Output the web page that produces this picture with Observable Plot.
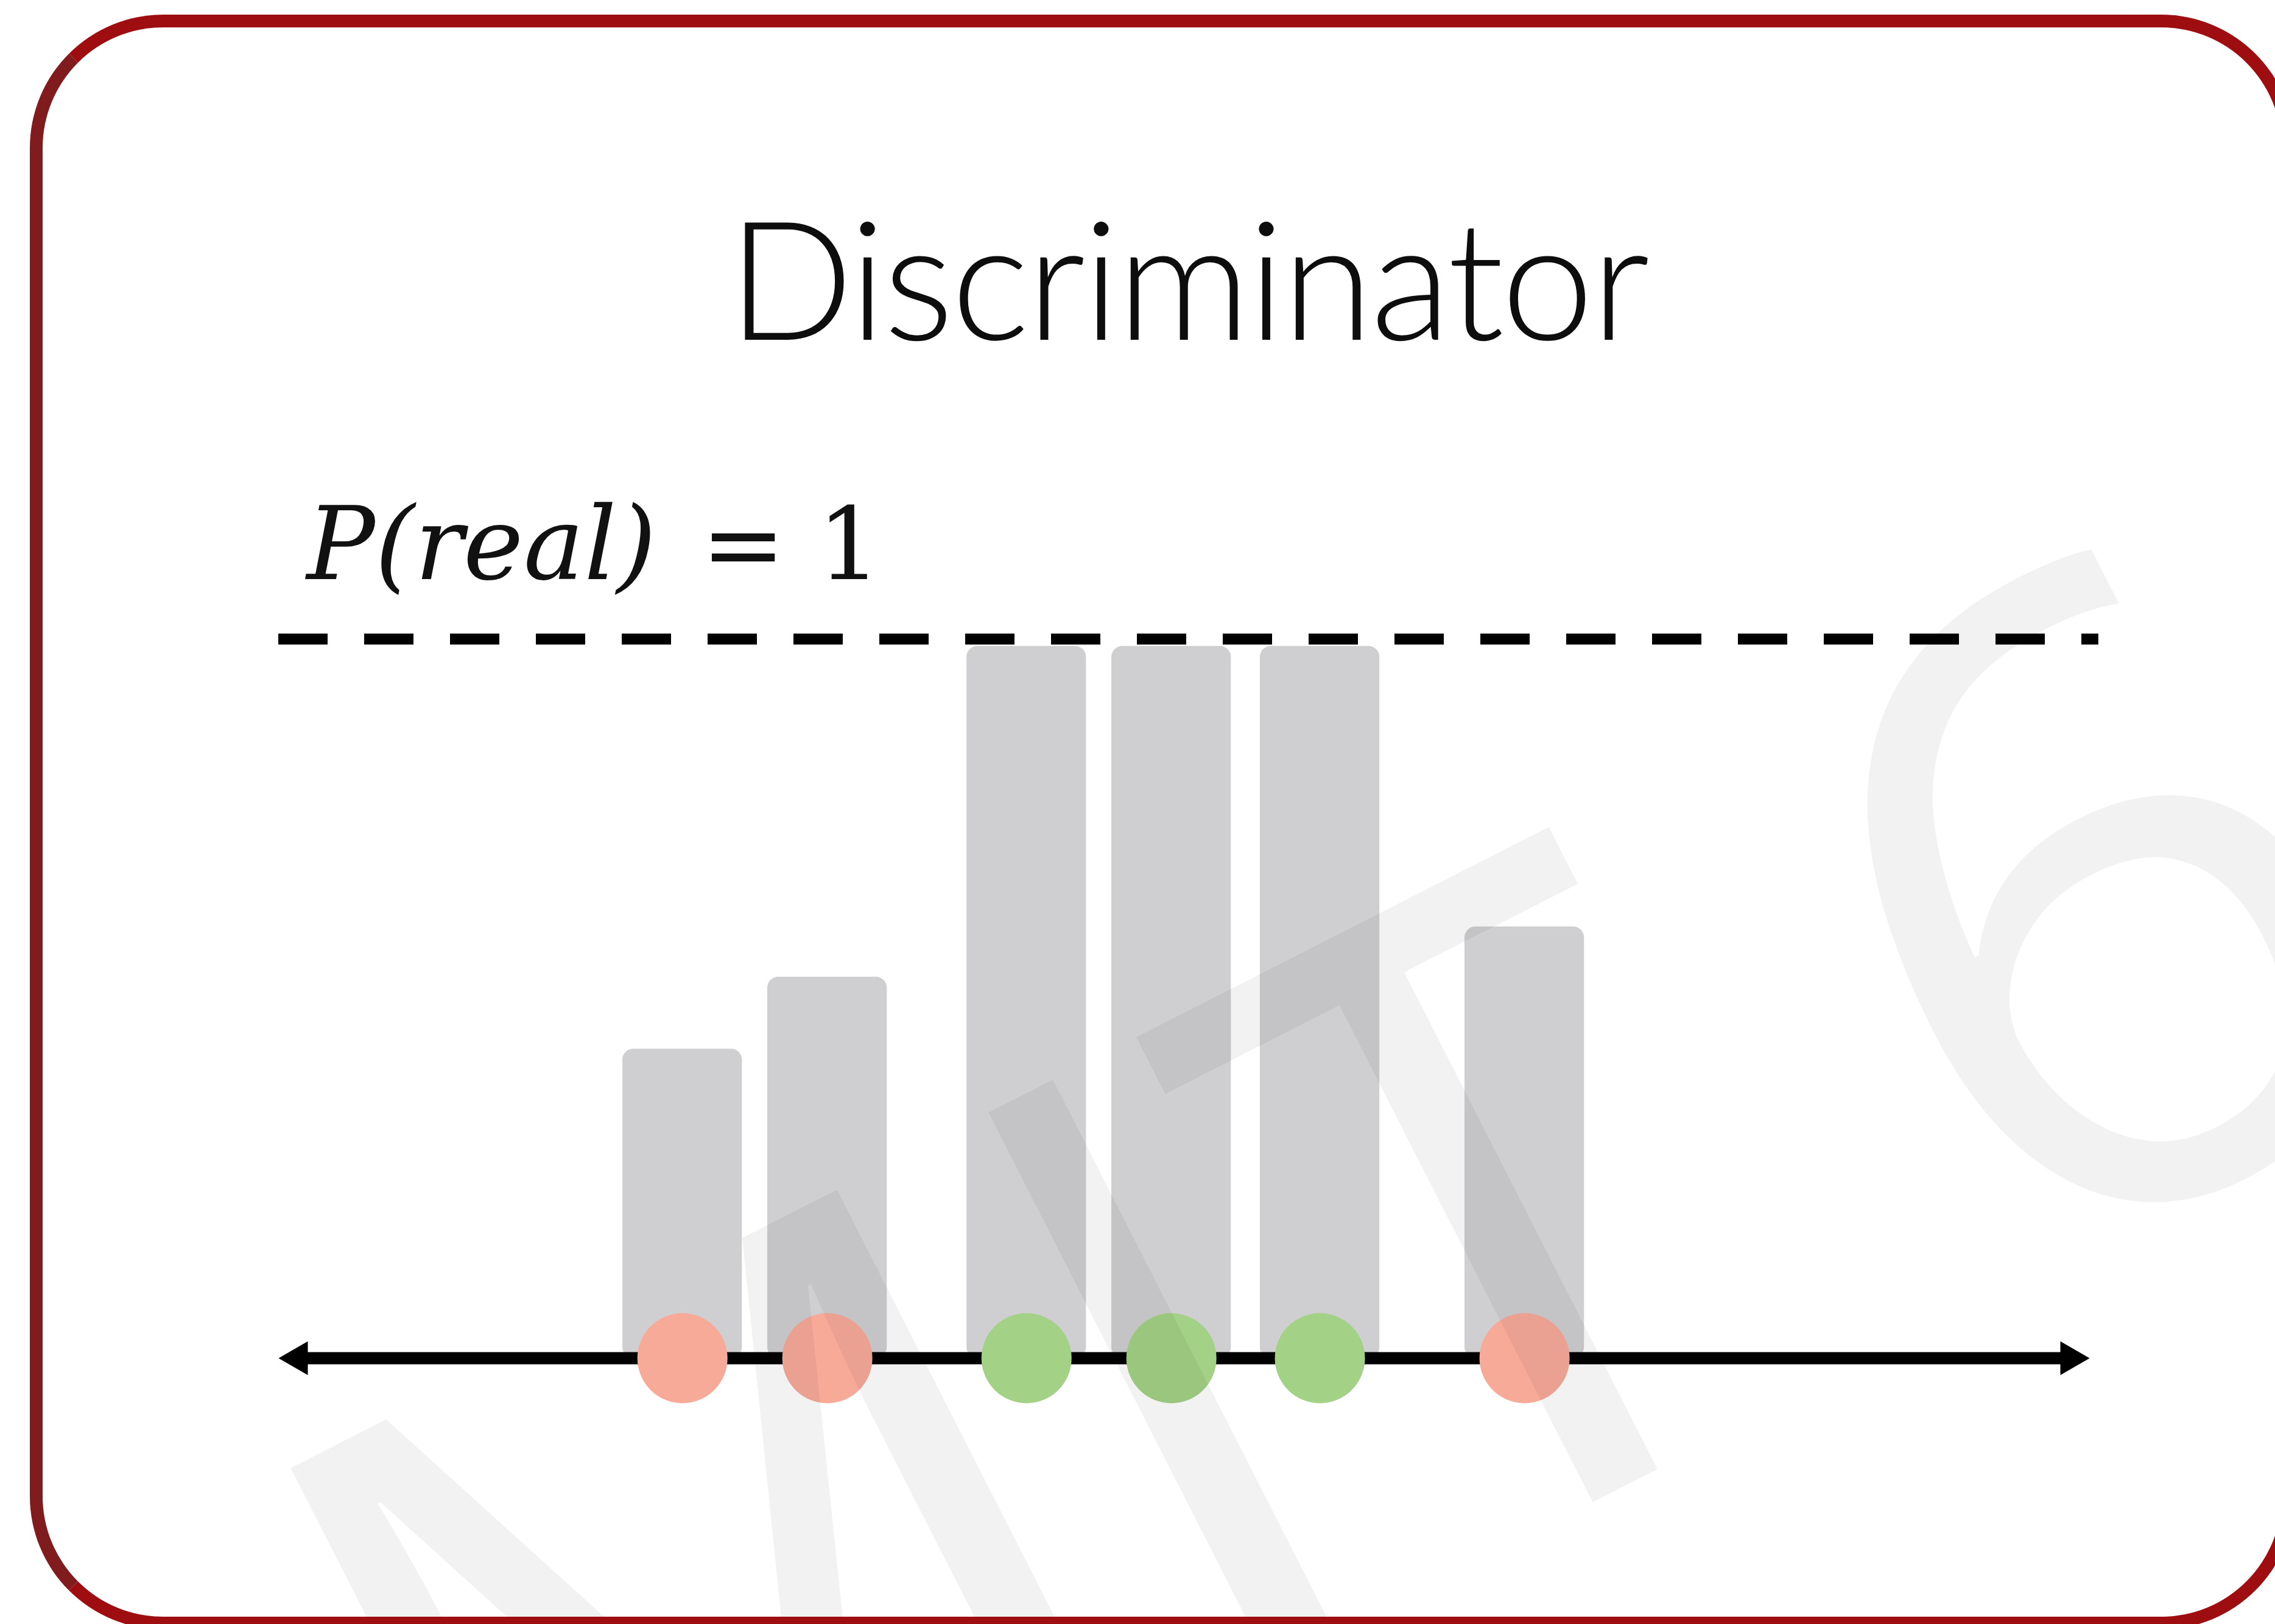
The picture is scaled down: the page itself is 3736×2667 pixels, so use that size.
<!DOCTYPE html>
<html>
<head>
<meta charset="utf-8">
<script src="https://cdn.jsdelivr.net/npm/d3@7"></script>
<script src="https://cdn.jsdelivr.net/npm/@observablehq/plot@0.6"></script>
<style>
  html, body { margin: 0; padding: 0; background: #fff; }
  body { width: 3736px; height: 2667px; overflow: hidden; position: relative; }
  #title {
    position: absolute; left: 0; top: 300px; width: 3736px; text-align: center;
    font-family: Lato, "Open Sans", sans-serif; font-weight: 300; font-size: 272px;
    line-height: 1; color: #0d0d0d; white-space: nowrap;
  }
  #chart { position: absolute; left: 0; top: 700px; }
  #frame {
    position: absolute; left: 49px; top: 24px; width: 3719px; height: 2652px;
    box-sizing: border-box; border: 21px solid #9e0e11; border-left-color: #801b1e;
    border-radius: 219px; pointer-events: none;
  }
</style>
</head>
<body>
<div id="title">Discriminator<span id="bl" style="display:inline-block;width:0;height:0;vertical-align:baseline"></span></div>
<div id="chart"></div>
<div id="frame"></div>
<script>
// ---- data ----
const samples = [22.3, 30.3, 41.3, 49.3, 57.5, 68.8];      // sample positions along the line
const scores  = [0.43, 0.53, 0.99, 0.99, 0.99, 0.60];      // discriminator output P(real)
const kinds   = ["fake", "fake", "real", "real", "real", "fake"];
const axisExtent = [0, 100];
const threshold = 1;
const thresholdLabel = "P(real)";
const thresholdValue = "= 1";
const titleText = "Discriminator";
const watermarkA = "MIT";
const watermarkB = "6.S191";

const data = samples.map((x, i) => ({x, score: scores[i], kind: kinds[i]}));

const halfW = 3.3;
const W = 3736, H = 1967;

const plot = Plot.plot({
  width: W, height: H,
  marginLeft: 457, marginRight: 305, marginTop: 349, marginBottom: 437,
  x: {domain: axisExtent, axis: null},
  y: {domain: [0, 1], axis: null},
  color: {domain: ["fake", "real"], range: ["#f8aa99", "#a3d185"]},
  style: {background: "transparent", overflow: "visible"},
  marks: [
    Plot.rect(data, {x1: d => d.x - halfW, x2: d => d.x + halfW, y1: 0, y2: "score", fill: "#cfcfd1", rx: 18}),
    Plot.ruleY([threshold], {x1: axisExtent[0], x2: axisExtent[1] + 0.5, stroke: "#000", strokeWidth: 18, strokeDasharray: "81,60"}),
    Plot.ruleY([0], {x1: axisExtent[0] + 0.8, x2: axisExtent[1] - 0.8, stroke: "#000", strokeWidth: 20}),
    Plot.dot([axisExtent[0]], {x: d => d, y: 0, symbol: "triangle", r: 20.6, fill: "#000", rotate: -90, dx: 32}),
    Plot.dot([axisExtent[1]], {x: d => d, y: 0, symbol: "triangle", r: 20.6, fill: "#000", rotate: 90, dx: -32}),
    Plot.dot(data, {x: "x", y: 0, r: 74, fill: "kind"}),
    Plot.text([thresholdLabel], {x: axisExtent[0], y: threshold, text: d => d, dx: 46, dy: -99, textAnchor: "start", lineAnchor: "bottom",
      fontFamily: "DejaVu Serif", fontStyle: "italic", fontSize: 167, fill: "#111"}),
    Plot.text([thresholdValue], {x: axisExtent[0], y: threshold, text: d => d, dx: 694, dy: -99, textAnchor: "start", lineAnchor: "bottom",
      fontFamily: "DejaVu Serif", fontSize: 165, fill: "#111"})
  ]
});
document.getElementById("chart").appendChild(plot);

// faint rotated watermark on top
const svg = d3.select(plot);
const wm = svg.append("g").attr("fill", "#000").attr("fill-opacity", 0.05)
  .attr("font-family", "'Open Sans', Lato, sans-serif").attr("font-size", 1430);
wm.append("text").attr("transform", "translate(3020,1561) rotate(-27)").attr("text-anchor", "end").text(watermarkA);
wm.append("text").attr("transform", "translate(3300,1418) rotate(-27)").attr("text-anchor", "start").text(watermarkB);

// title: fit width and baseline
const title = document.getElementById("title");
function fitTitle() {
  const ctx = document.createElement("canvas").getContext("2d");
  const cs = getComputedStyle(title);
  ctx.font = `${cs.fontWeight} ${cs.fontSize} ${cs.fontFamily}`;
  const m = ctx.measureText(titleText);
  const inkW = m.actualBoundingBoxLeft + m.actualBoundingBoxRight;
  const ls = (1486 - inkW) / (titleText.length - 1);
  title.style.letterSpacing = ls + "px";
  title.style.paddingLeft = ls + "px";
  const bl = document.getElementById("bl").getBoundingClientRect().top;
  const cur = parseFloat(title.style.top || "300");
  title.style.top = (cur + (558 - bl)) + "px";
  title.style.left = (1962 - 1868 - 12) + "px";
}
title.style.top = "300px";
fitTitle();
</script>
</body>
</html>
